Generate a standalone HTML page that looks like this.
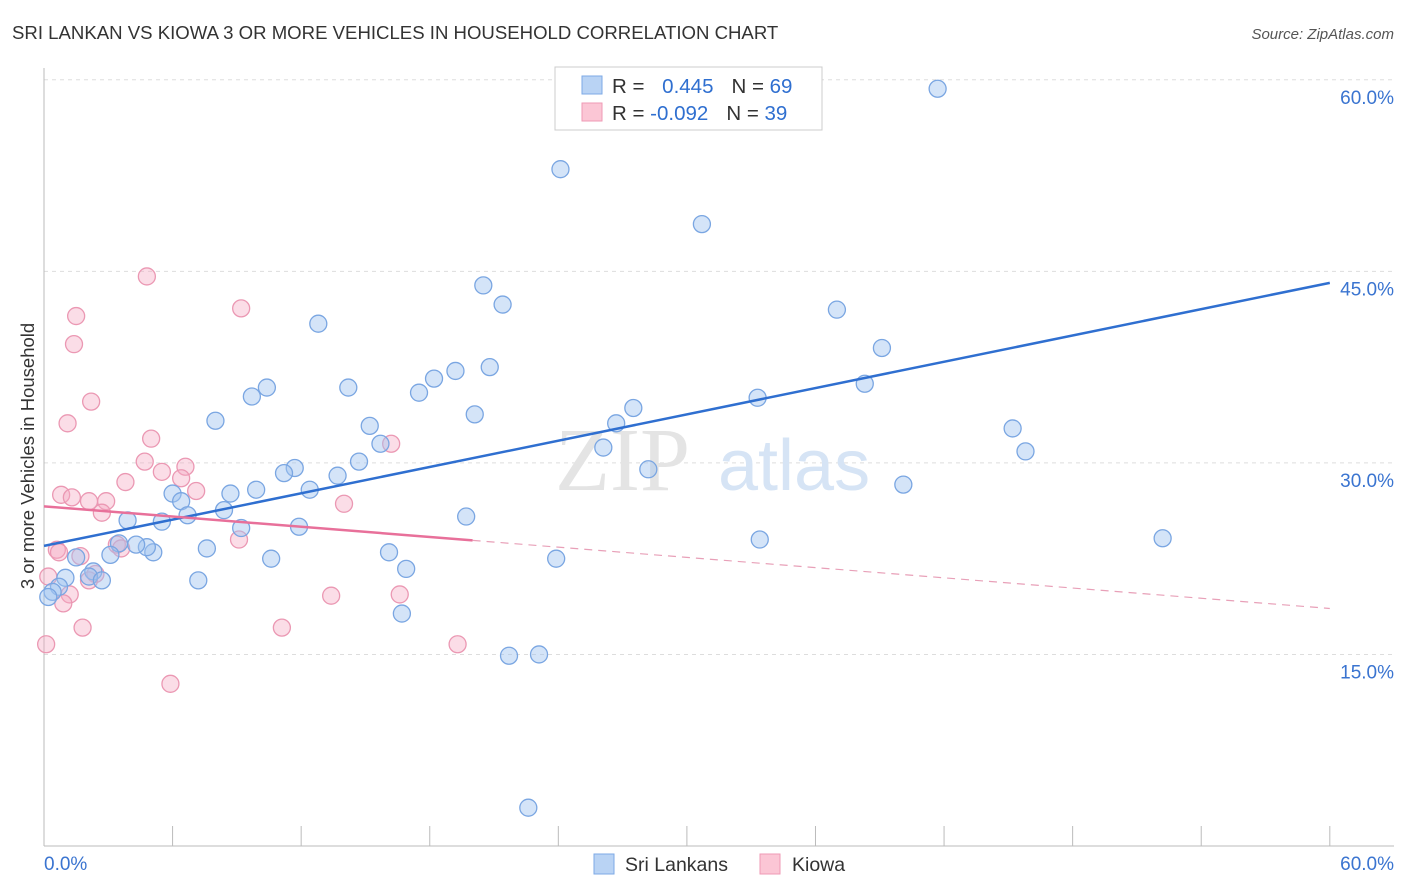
<!DOCTYPE html>
<html><head><meta charset="utf-8"><style>
body{margin:0;background:#fff;font-family:"Liberation Sans",sans-serif;}
</style></head><body>
<svg id="chart" width="1406" height="892" xmlns="http://www.w3.org/2000/svg" style="display:block">
<text x="12" y="39" font-size="18.6" fill="#333">SRI LANKAN VS KIOWA 3 OR MORE VEHICLES IN HOUSEHOLD CORRELATION CHART</text>
<text x="1394" y="39" font-size="15" fill="#555" text-anchor="end" font-style="italic">Source: ZipAtlas.com</text>
<g id="grid"></g>
<g><text x="555" y="490" font-size="90" fill="#e4e4e4" font-family="Liberation Serif">ZIP</text><text x="718" y="490" font-size="72" fill="#d6e4f5">atlas</text></g>
<g id="pts"></g>
<g id="lines"></g>
<text transform="translate(34,456) rotate(-90)" font-size="18.5" fill="#333" text-anchor="middle">3 or more Vehicles in Household</text>
<g>
<rect x="555" y="67" width="267" height="63" fill="#fff" stroke="#ccc"/>
<rect x="582" y="76" width="20" height="18" fill="#b9d3f4" stroke="#7da9e6"/>
<rect x="582" y="103" width="20" height="18" fill="#fbc6d5" stroke="#ef9ab5"/>
<text x="612" y="93" font-size="20.5" fill="#333">R = <tspan fill="#2f6fd0" dx="12">0.445</tspan><tspan dx="18" fill="#333">N = </tspan><tspan fill="#2f6fd0">69</tspan></text>
<text x="612" y="120" font-size="20.5" fill="#333">R = <tspan fill="#2f6fd0">-0.092</tspan><tspan dx="18" fill="#333">N = </tspan><tspan fill="#2f6fd0">39</tspan></text>
</g>
<g>
<rect x="594" y="854" width="20" height="20" fill="#b9d3f4" stroke="#7da9e6"/>
<text x="625" y="871" font-size="19.5" fill="#333">Sri Lankans</text>
<rect x="760" y="854" width="20" height="20" fill="#fbc6d5" stroke="#ef9ab5"/>
<text x="792" y="871" font-size="19.5" fill="#333">Kiowa</text>
</g>
</svg>
<script>
const blueX=[41.7,24.1,30.7,20.5,21.4,12.8,37.0,39.1,38.3,33.3,10.4,9.7,14.2,20.8,19.2,18.2,17.5,20.1,27.5,26.7,26.1,28.2,15.2,15.7,14.7,11.7,11.2,13.7,12.4,9.9,8.7,6.0,6.4,6.7,8.4,8.0,3.9,5.5,9.2,11.9,19.7,45.2,45.8,40.1,52.2,33.4,23.9,16.1,16.9,10.6,7.6,5.1,4.8,4.3,3.5,3.1,1.5,2.3,2.1,2.7,1.0,7.2,0.7,0.4,16.7,21.7,23.1,22.6,0.2,33.9];
const blueY=[59.3,53.0,48.7,43.9,42.4,40.9,42.0,39.0,36.2,35.1,35.9,35.2,35.9,37.5,37.2,36.6,35.5,33.8,34.3,33.1,31.2,29.5,32.9,31.5,30.1,29.6,29.2,29.0,27.9,27.9,27.6,27.6,27.0,25.9,26.3,33.3,25.5,25.4,24.9,25.0,25.8,32.7,30.9,28.3,24.1,24.0,22.5,23.0,21.7,22.5,23.3,23.0,23.4,23.6,23.7,22.8,22.6,21.5,21.1,20.8,21.0,20.8,20.3,19.9,18.2,14.9,15.0,3.0,19.5,59.6];
const pinkX=[4.8,9.2,1.5,1.4,2.2,1.1,5.0,4.7,6.6,5.5,6.4,7.1,3.8,0.8,1.3,2.1,2.9,2.7,16.2,14.0,9.1,3.4,3.6,0.6,0.7,1.7,0.2,2.4,2.1,1.2,0.9,13.4,16.6,1.8,11.1,19.3,0.1,5.9];
const pinkY=[44.6,42.1,41.5,39.3,34.8,33.1,31.9,30.1,29.7,29.3,28.8,27.8,28.5,27.5,27.3,27.0,27.0,26.1,31.5,26.8,24.0,23.6,23.3,23.2,23.0,22.7,21.1,21.3,20.8,19.7,19.0,19.6,19.7,17.1,17.1,15.8,15.8,12.7];
const yTicks=[15,30,45,60];
const yTickLabels=["15.0%","30.0%","45.0%","60.0%"];
const blueTrend=[23.5,44.1];
const pinkTrend=[26.6,18.6];
const pinkSolidEnd=20;
const NS="http://www.w3.org/2000/svg";
const sx=v=>44+v*21.43, sy=v=>846-v*12.77;
function el(t,a,p){const e=document.createElementNS(NS,t);for(const k in a)e.setAttribute(k,a[k]);p.appendChild(e);return e;}
const grid=document.getElementById('grid'),pts=document.getElementById('pts'),lines=document.getElementById('lines');
yTicks.forEach((t,i)=>{
 const g=el('line',{x1:44,x2:1394,y1:sy(t),y2:sy(t),stroke:'#ddd','stroke-dasharray':'4,4'},grid);
 
 
 const tx=el('text',{x:1394,y:sy(t)+24,'font-size':19,fill:'#3a74d0','text-anchor':'end'},grid);
 tx.textContent=yTickLabels[i];
 
 
});
const ax=el('line',{x1:44,x2:44,y1:68,y2:846,stroke:'#bbb'},grid);


const bx=el('line',{x1:44,x2:1394,y1:846,y2:846,stroke:'#bbb'},grid);


for(let i=0;i<=10;i++){const tk=el('line',{x1:sx(i*6),x2:sx(i*6),y1:826,y2:846,stroke:'#bbb'},grid);
 
 }
[["0.0%",44,'start'],["60.0%",1394,'end']].forEach(d=>{const t=el('text',{x:d[1],y:870,'font-size':19,fill:'#3a74d0','text-anchor':d[2]},grid);t.textContent=d[0];
 
 });
pinkX.forEach((x,i)=>{const c=el('circle',{cx:sx(x),cy:sy(pinkY[i]),r:8.5,fill:'rgba(244,170,195,0.4)',stroke:'#eb98b3','stroke-width':1.3},pts);
 
 });
blueX.forEach((x,i)=>{const c=el('circle',{cx:sx(x),cy:sy(blueY[i]),r:8.5,fill:'rgba(160,195,240,0.45)',stroke:'#7aa6e2','stroke-width':1.3},pts);
 
 });
const bl=el('line',{x1:sx(0),y1:sy(blueTrend[0]),x2:sx(60),y2:sy(blueTrend[1]),stroke:'#2f6fd0','stroke-width':2.5},lines);


const pm=pinkTrend[0]+(pinkTrend[1]-pinkTrend[0])*pinkSolidEnd/60;
const pl=el('line',{x1:sx(0),y1:sy(pinkTrend[0]),x2:sx(pinkSolidEnd),y2:sy(pm),stroke:'#e8709a','stroke-width':2.5},lines);


const pd=el('line',{x1:sx(pinkSolidEnd),y1:sy(pm),x2:sx(60),y2:sy(pinkTrend[1]),stroke:'#e8a0b8','stroke-width':1.2,'stroke-dasharray':'8,6'},lines);


</script>
</body></html>
